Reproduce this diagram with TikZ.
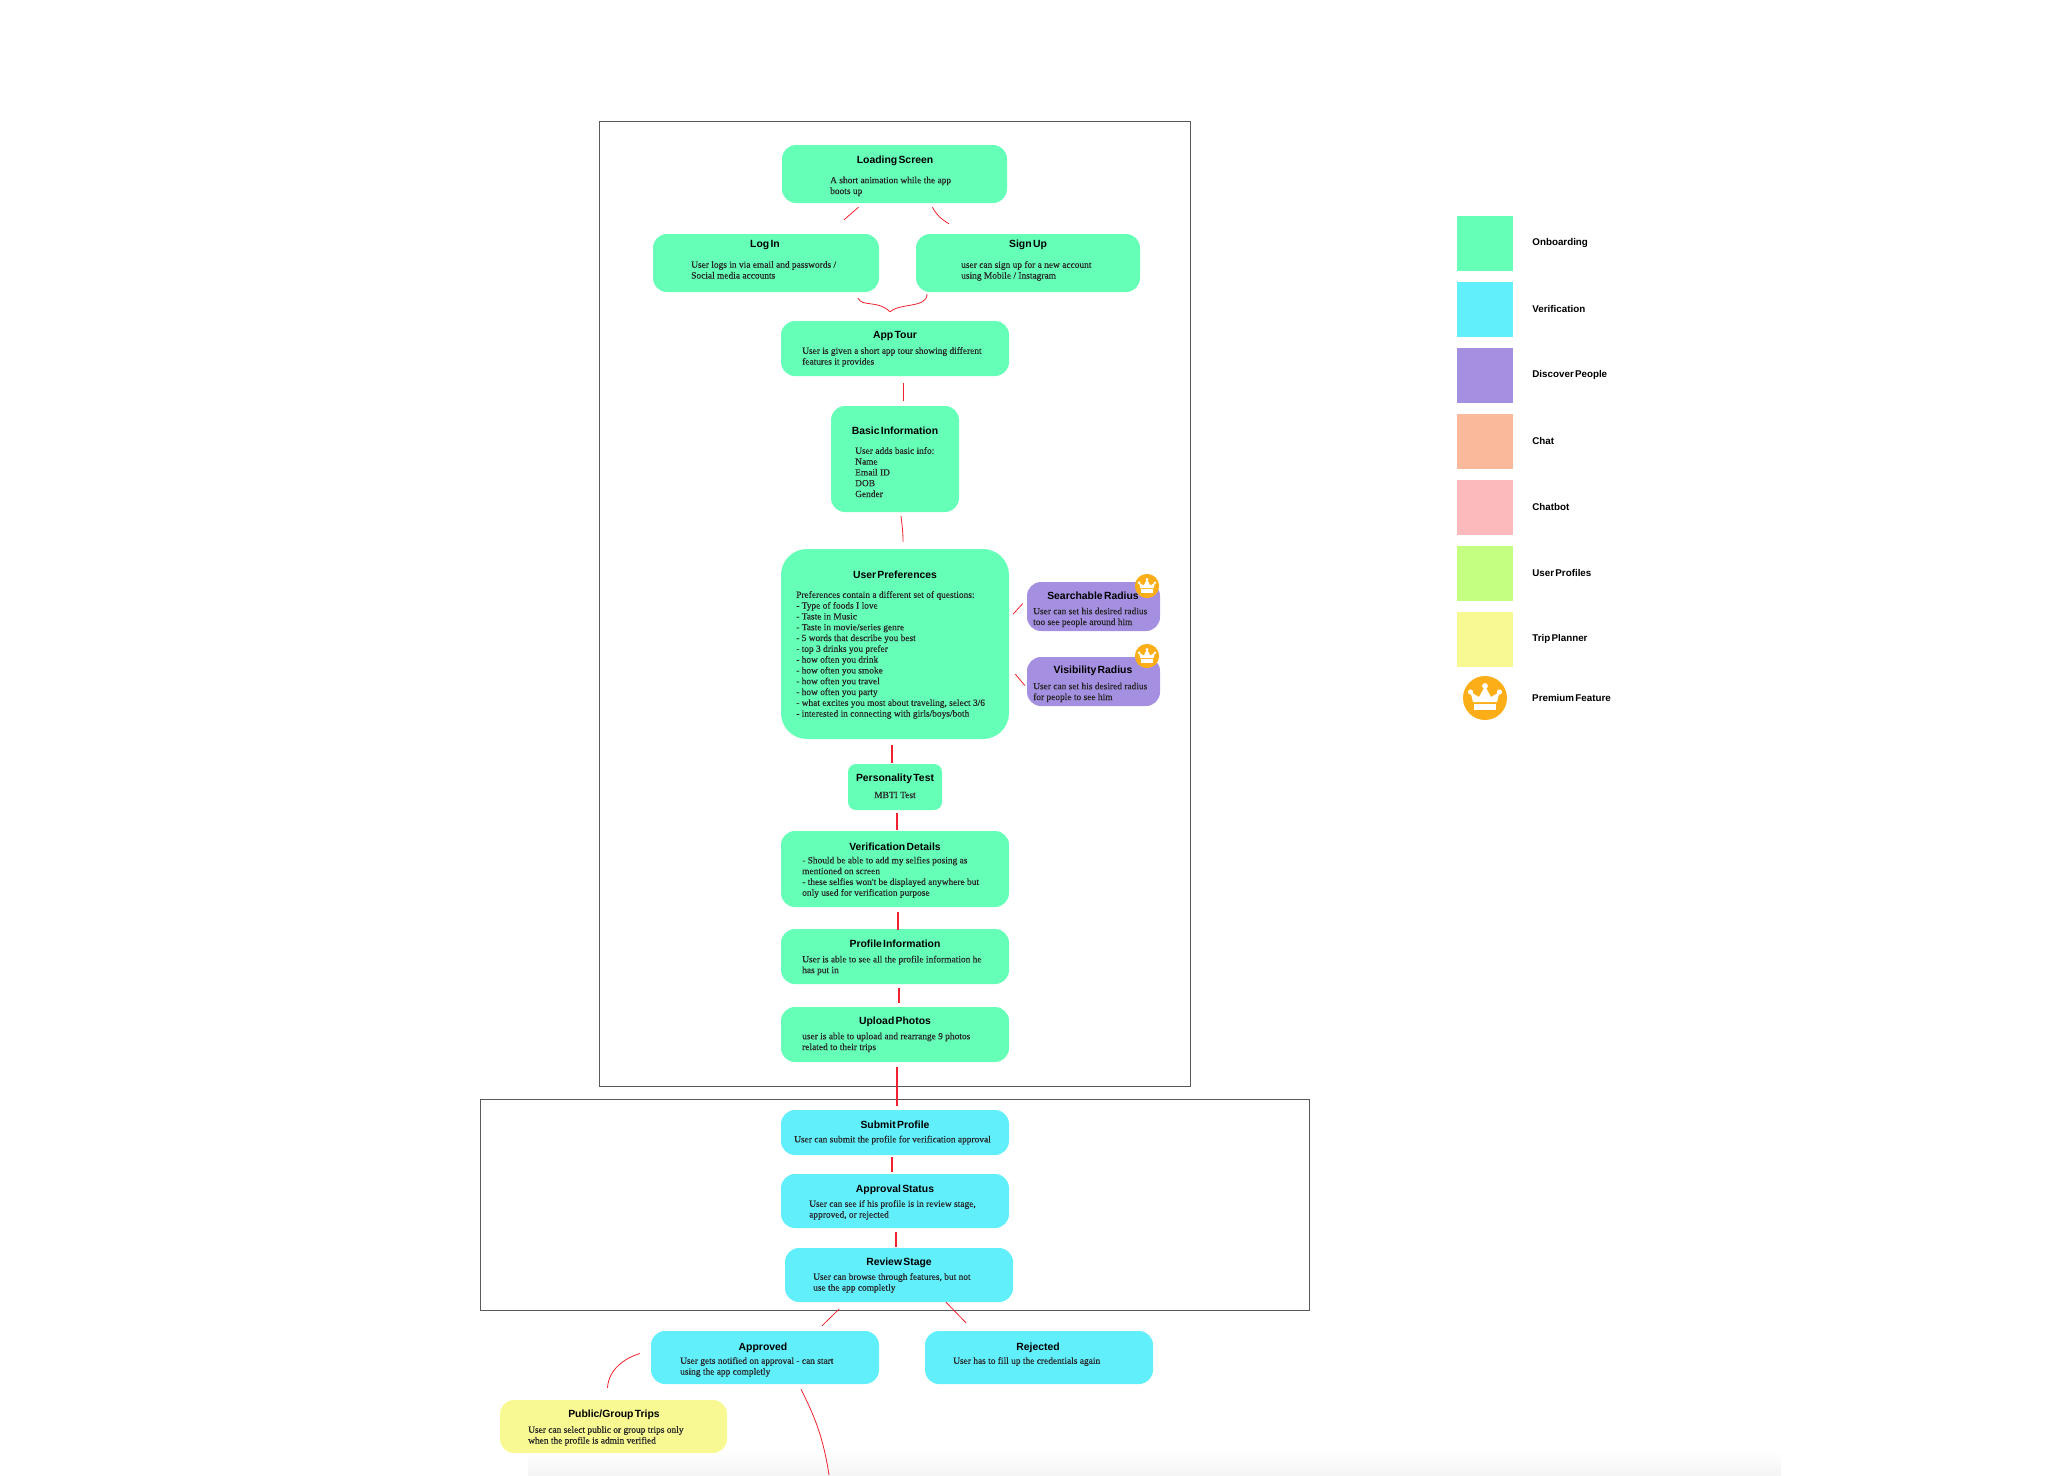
\documentclass[tikz,border=0pt]{standalone}
\usepackage{fontspec}
\usepackage{tikz}
\usetikzlibrary{positioning, arrows.meta, calc}
\setmainfont{Liberation Serif}
\newfontfamily\bodyfont[FakeBold=0.35]{Liberation Serif}
\newfontfamily\headfont[WordSpace=0.45]{Liberation Sans}
\definecolor{onboardgreen}{HTML}{66FFB8}
\definecolor{verifycyan}{HTML}{62EFFC}
\definecolor{discoverpurple}{HTML}{A58FE0}
\definecolor{chatpeach}{HTML}{F9B99A}
\definecolor{chatbotpink}{HTML}{FCBABD}
\definecolor{profilelime}{HTML}{C4FF82}
\definecolor{tripyellow}{HTML}{F9F994}
\definecolor{crownorange}{HTML}{FBAE17}
\definecolor{linkred}{HTML}{F0222D}
\tikzset{
  crownicon/.pic={
    \fill[crownorange] (0,0) circle (22);
    \fill[white] (-12,4) -- (-14.5,-6) -- (-6,-1) -- (0,-12) -- (6,-1) -- (14.5,-6) -- (12,4) -- cycle;
    \fill[white] (-14.5,-6) circle (2.6) (14.5,-6) circle (2.6) (0,-12) circle (2.9);
    \fill[white] (-11,6) rectangle (11,12);
  }
}
\begin{document}
\begin{tikzpicture}[x=1pt, y=-1pt,
    card/.style={rounded corners=14pt, inner sep=0pt},
    swatch/.style={minimum width=56pt, minimum height=55pt, inner sep=0pt},
    framebox/.style={draw=black!65, line width=0.9pt, inner sep=0pt},
    cardtitle/.style={font=\headfont\fontsize{10.4}{12}\selectfont\bfseries, inner sep=0pt, yshift=-1.3pt},
    cardbody/.style={font=\bodyfont\fontsize{9.4}{10.8}\selectfont, text=black!85, align=left, anchor=north west, inner sep=0pt, yshift=-2pt},
    legendlabel/.style={font=\headfont\fontsize{9.8}{12}\selectfont\bfseries, anchor=west, inner sep=0pt},
    link/.style={draw=linkred, line width=0.8pt},
    thicklink/.style={draw=linkred, line width=1.5pt}]
  \useasboundingbox (0,0) rectangle (2069,1475);
  \shade[top color=white, bottom color=black!4] (528,1450) rectangle (1781,1475);

  % Frames
  \node[framebox, minimum width=591pt, minimum height=965pt] (onboardframe) at (894.5,603.5) {};
  \node[framebox, minimum width=829pt, minimum height=211pt] (verifyframe) at (894.5,1204.5) {};

  % Onboarding cards
  \node[card, fill=onboardgreen, minimum width=225pt, minimum height=58pt] (loading) at (894.5,174) {};
  \node[cardtitle] (loadingT) at (895,160) {Loading Screen};
  \node[cardbody] (loadingB) at (830,174.5) {A short animation while the app\\boots up};

  \node[card, fill=onboardgreen, minimum width=226pt, minimum height=58pt] (login) at (766,263) {};
  \node[cardtitle] (loginT) at (765,244) {Log In};
  \node[cardbody] (loginB) at (691,259) {User logs in via email and passwords /\\Social media accounts};

  \node[card, fill=onboardgreen, minimum width=224pt, minimum height=58pt] (signup) at (1028,263) {};
  \node[cardtitle] (signupT) at (1028,244) {Sign Up};
  \node[cardbody] (signupB) at (961,259) {user can sign up for a new account\\using Mobile / Instagram};

  \node[card, fill=onboardgreen, minimum width=228pt, minimum height=55pt] (apptour) at (895,348.5) {};
  \node[cardtitle] (apptourT) at (895,335) {App Tour};
  \node[cardbody] (apptourB) at (802,345) {User is given a short app tour showing different\\features it provides};

  \node[card, fill=onboardgreen, minimum width=128pt, minimum height=106pt] (basic) at (895,459) {};
  \node[cardtitle] (basicT) at (895,429) {Basic Information};
  \node[cardbody] (basicB) at (855,445) {User adds basic info:\\Name\\Email ID\\DOB\\Gender};

  \node[card, rounded corners=26pt, fill=onboardgreen, minimum width=228pt, minimum height=190pt] (userpref) at (895,644) {};
  \node[cardtitle] (userprefT) at (895,573) {User Preferences};
  \node[cardbody] (userprefB) at (796,589) {Preferences contain a different set of questions:\\- Type of foods I love\\- Taste in Music\\- Taste in movie/series genre\\- 5 words that describe you best\\- top 3 drinks you prefer\\- how often you drink\\- how often you smoke\\- how often you travel\\- how often you party\\- what excites you most about traveling, select 3/6\\- interested in connecting with girls/boys/both};

  \node[card, fill=discoverpurple, minimum width=133pt, minimum height=49pt] (search) at (1093.5,606.5) {};
  \node[cardtitle] (searchT) at (1093,594) {Searchable Radius};
  \node[cardbody] (searchB) at (1033,605.5) {User can set his desired radius\\too see people around him};
  \pic[scale=0.55] at (1147,586) {crownicon};

  \node[card, fill=discoverpurple, minimum width=133pt, minimum height=49pt] (visib) at (1093.5,681.5) {};
  \node[cardtitle] (visibT) at (1093,670) {Visibility Radius};
  \node[cardbody] (visibB) at (1033,680.5) {User can set his desired radius\\for people to see him};
  \pic[scale=0.55] at (1147,656) {crownicon};

  \node[card, rounded corners=8pt, fill=onboardgreen, minimum width=94pt, minimum height=46pt] (personality) at (895,787) {};
  \node[cardtitle] (personalityT) at (895,778) {Personality Test};
  \node[cardbody, anchor=center] (personalityB) at (895,793) {MBTI Test};

  \node[card, fill=onboardgreen, minimum width=228pt, minimum height=76pt] (verifdetails) at (895,869) {};
  \node[cardtitle] (verifdetailsT) at (895,845.5) {Verification Details};
  \node[cardbody] (verifdetailsB) at (802,854.5) {- Should be able to add my selfies posing as\\mentioned on screen\\- these selfies won't be displayed anywhere but\\only used for verification purpose};

  \node[card, fill=onboardgreen, minimum width=228pt, minimum height=55pt] (profileinfo) at (895,956.5) {};
  \node[cardtitle] (profileinfoT) at (895,942.5) {Profile Information};
  \node[cardbody] (profileinfoB) at (802,953.5) {User is able to see all the profile information he\\has put in};

  \node[card, fill=onboardgreen, minimum width=228pt, minimum height=55pt] (upload) at (895,1034.5) {};
  \node[cardtitle] (uploadT) at (895,1020) {Upload Photos};
  \node[cardbody] (uploadB) at (802,1030.5) {user is able to upload and rearrange 9 photos\\related to their trips};

  % Verification cards
  \node[card, fill=verifycyan, minimum width=228pt, minimum height=45pt] (submit) at (895,1132.5) {};
  \node[cardtitle] (submitT) at (895,1123.5) {Submit Profile};
  \node[cardbody] (submitB) at (794,1133.5) {User can submit the profile for verification approval};

  \node[card, fill=verifycyan, minimum width=228pt, minimum height=54pt] (approval) at (895,1201) {};
  \node[cardtitle] (approvalT) at (895,1188) {Approval Status};
  \node[cardbody] (approvalB) at (809,1198) {User can see if his profile is in review stage,\\approved, or rejected};

  \node[card, fill=verifycyan, minimum width=228pt, minimum height=54pt] (review) at (899,1275) {};
  \node[cardtitle] (reviewT) at (899,1262) {Review Stage};
  \node[cardbody] (reviewB) at (813,1271) {User can browse through features, but not\\use the app completly};

  \node[card, fill=verifycyan, minimum width=228pt, minimum height=53pt] (approved) at (765,1357.5) {};
  \node[cardtitle] (approvedT) at (763,1346) {Approved};
  \node[cardbody] (approvedB) at (680,1355) {User gets notified on approval - can start\\using the app completly};

  \node[card, fill=verifycyan, minimum width=228pt, minimum height=53pt] (rejected) at (1039,1357.5) {};
  \node[cardtitle] (rejectedT) at (1038,1346) {Rejected};
  \node[cardbody] (rejectedB) at (953,1355) {User has to fill up the credentials again};

  \node[card, fill=tripyellow, minimum width=227pt, minimum height=53pt] (publictrips) at (613.5,1426.5) {};
  \node[cardtitle] (publictripsT) at (614,1413) {Public/Group Trips};
  \node[cardbody] (publictripsB) at (528,1424) {User can select public or group trips only\\when the profile is admin verified};

  % Red links
  \coordinate (offpage) at (829,1475);
  \draw[link] ([shift={(-36,4)}]loading.south) -- ([shift={(78,-14)}]login.north);
  \draw[link] ([shift={(38,4)}]loading.south) .. controls +(4,8) and +(-8,-5) .. ([shift={(-79,-10)}]signup.north);
  \draw[link] ([shift={(92,6)}]login.south) .. controls +(4,9) and +(-12,-12) .. ([shift={(-5,-9)}]apptour.north);
  \draw[link] ([shift={(-101,2)}]signup.south) .. controls +(0,14) and +(10,-9) .. ([shift={(-5,-9)}]apptour.north);
  \draw[link] ([shift={(8,7)}]apptour.south) -- ([shift={(8,-5)}]basic.north);
  \draw[link] ([shift={(6,4)}]basic.south) .. controls +(1,8) and +(0,-10) .. ([shift={(8,-7)}]userpref.north);
  \draw[link] ([shift={(4,-30)}]userpref.east) -- ([shift={(-4,-3)}]search.west);
  \draw[link] ([shift={(6,30)}]userpref.east) -- ([shift={(-2,4)}]visib.west);
  \draw[thicklink] ([shift={(-3,6)}]userpref.south) -- ([shift={(-3,-1)}]personality.north);
  \draw[thicklink] ([shift={(2,3)}]personality.south) -- ([shift={(2,-1)}]verifdetails.north);
  \draw[thicklink] ([shift={(3,5)}]verifdetails.south) -- ([shift={(3,1)}]profileinfo.north);
  \draw[thicklink] ([shift={(4,4)}]profileinfo.south) -- ([shift={(4,-4)}]upload.north);
  \draw[link, line width=1.1pt] ([shift={(2,5)}]upload.south) -- ([shift={(2,-4)}]submit.north);
  \draw[thicklink] ([shift={(-3,2)}]submit.south) -- ([shift={(-3,-2)}]approval.north);
  \draw[thicklink] ([shift={(1,4)}]approval.south) -- ([shift={(-3,-1)}]review.north);
  \draw[link] ([shift={(-60,7)}]review.south) -- ([shift={(57,-5)}]approved.north);
  \draw[link] ([shift={(47,0)}]review.south) -- ([shift={(-73,-8)}]rejected.north);
  \draw[link] ([shift={(-11,-4)}]approved.west) .. controls +(-16,5) and +(1,-18) .. ([shift={(-6,-12)}]publictrips.north);
  \draw[link] ([shift={(36,5)}]approved.south) .. controls +(12,24) and +(-6,-40) .. (offpage);

  % Legend
  \node[swatch, fill=onboardgreen] (keyonboard) at (1485,243) {};
  \node[legendlabel, right=19pt of keyonboard] (keyonboardT) {Onboarding};
  \node[swatch, fill=verifycyan] (keyverify) at (1485,309) {};
  \node[legendlabel, right=19pt of keyverify] (keyverifyT) {Verification};
  \node[swatch, fill=discoverpurple] (keydiscover) at (1485,375) {};
  \node[legendlabel, right=19pt of keydiscover] (keydiscoverT) {Discover People};
  \node[swatch, fill=chatpeach] (keychat) at (1485,441) {};
  \node[legendlabel, right=19pt of keychat] (keychatT) {Chat};
  \node[swatch, fill=chatbotpink] (keychatbot) at (1485,507) {};
  \node[legendlabel, right=19pt of keychatbot] (keychatbotT) {Chatbot};
  \node[swatch, fill=profilelime] (keyprofile) at (1485,573) {};
  \node[legendlabel, right=19pt of keyprofile] (keyprofileT) {User Profiles};
  \node[swatch, fill=tripyellow] (keytrip) at (1485,639) {};
  \node[legendlabel, right=19pt of keytrip] (keytripT) {Trip Planner};
  \pic at (1485,698) {crownicon};
  \node[legendlabel] (keypremiumT) at (1532,698) {Premium Feature};
\end{tikzpicture}
\end{document}
